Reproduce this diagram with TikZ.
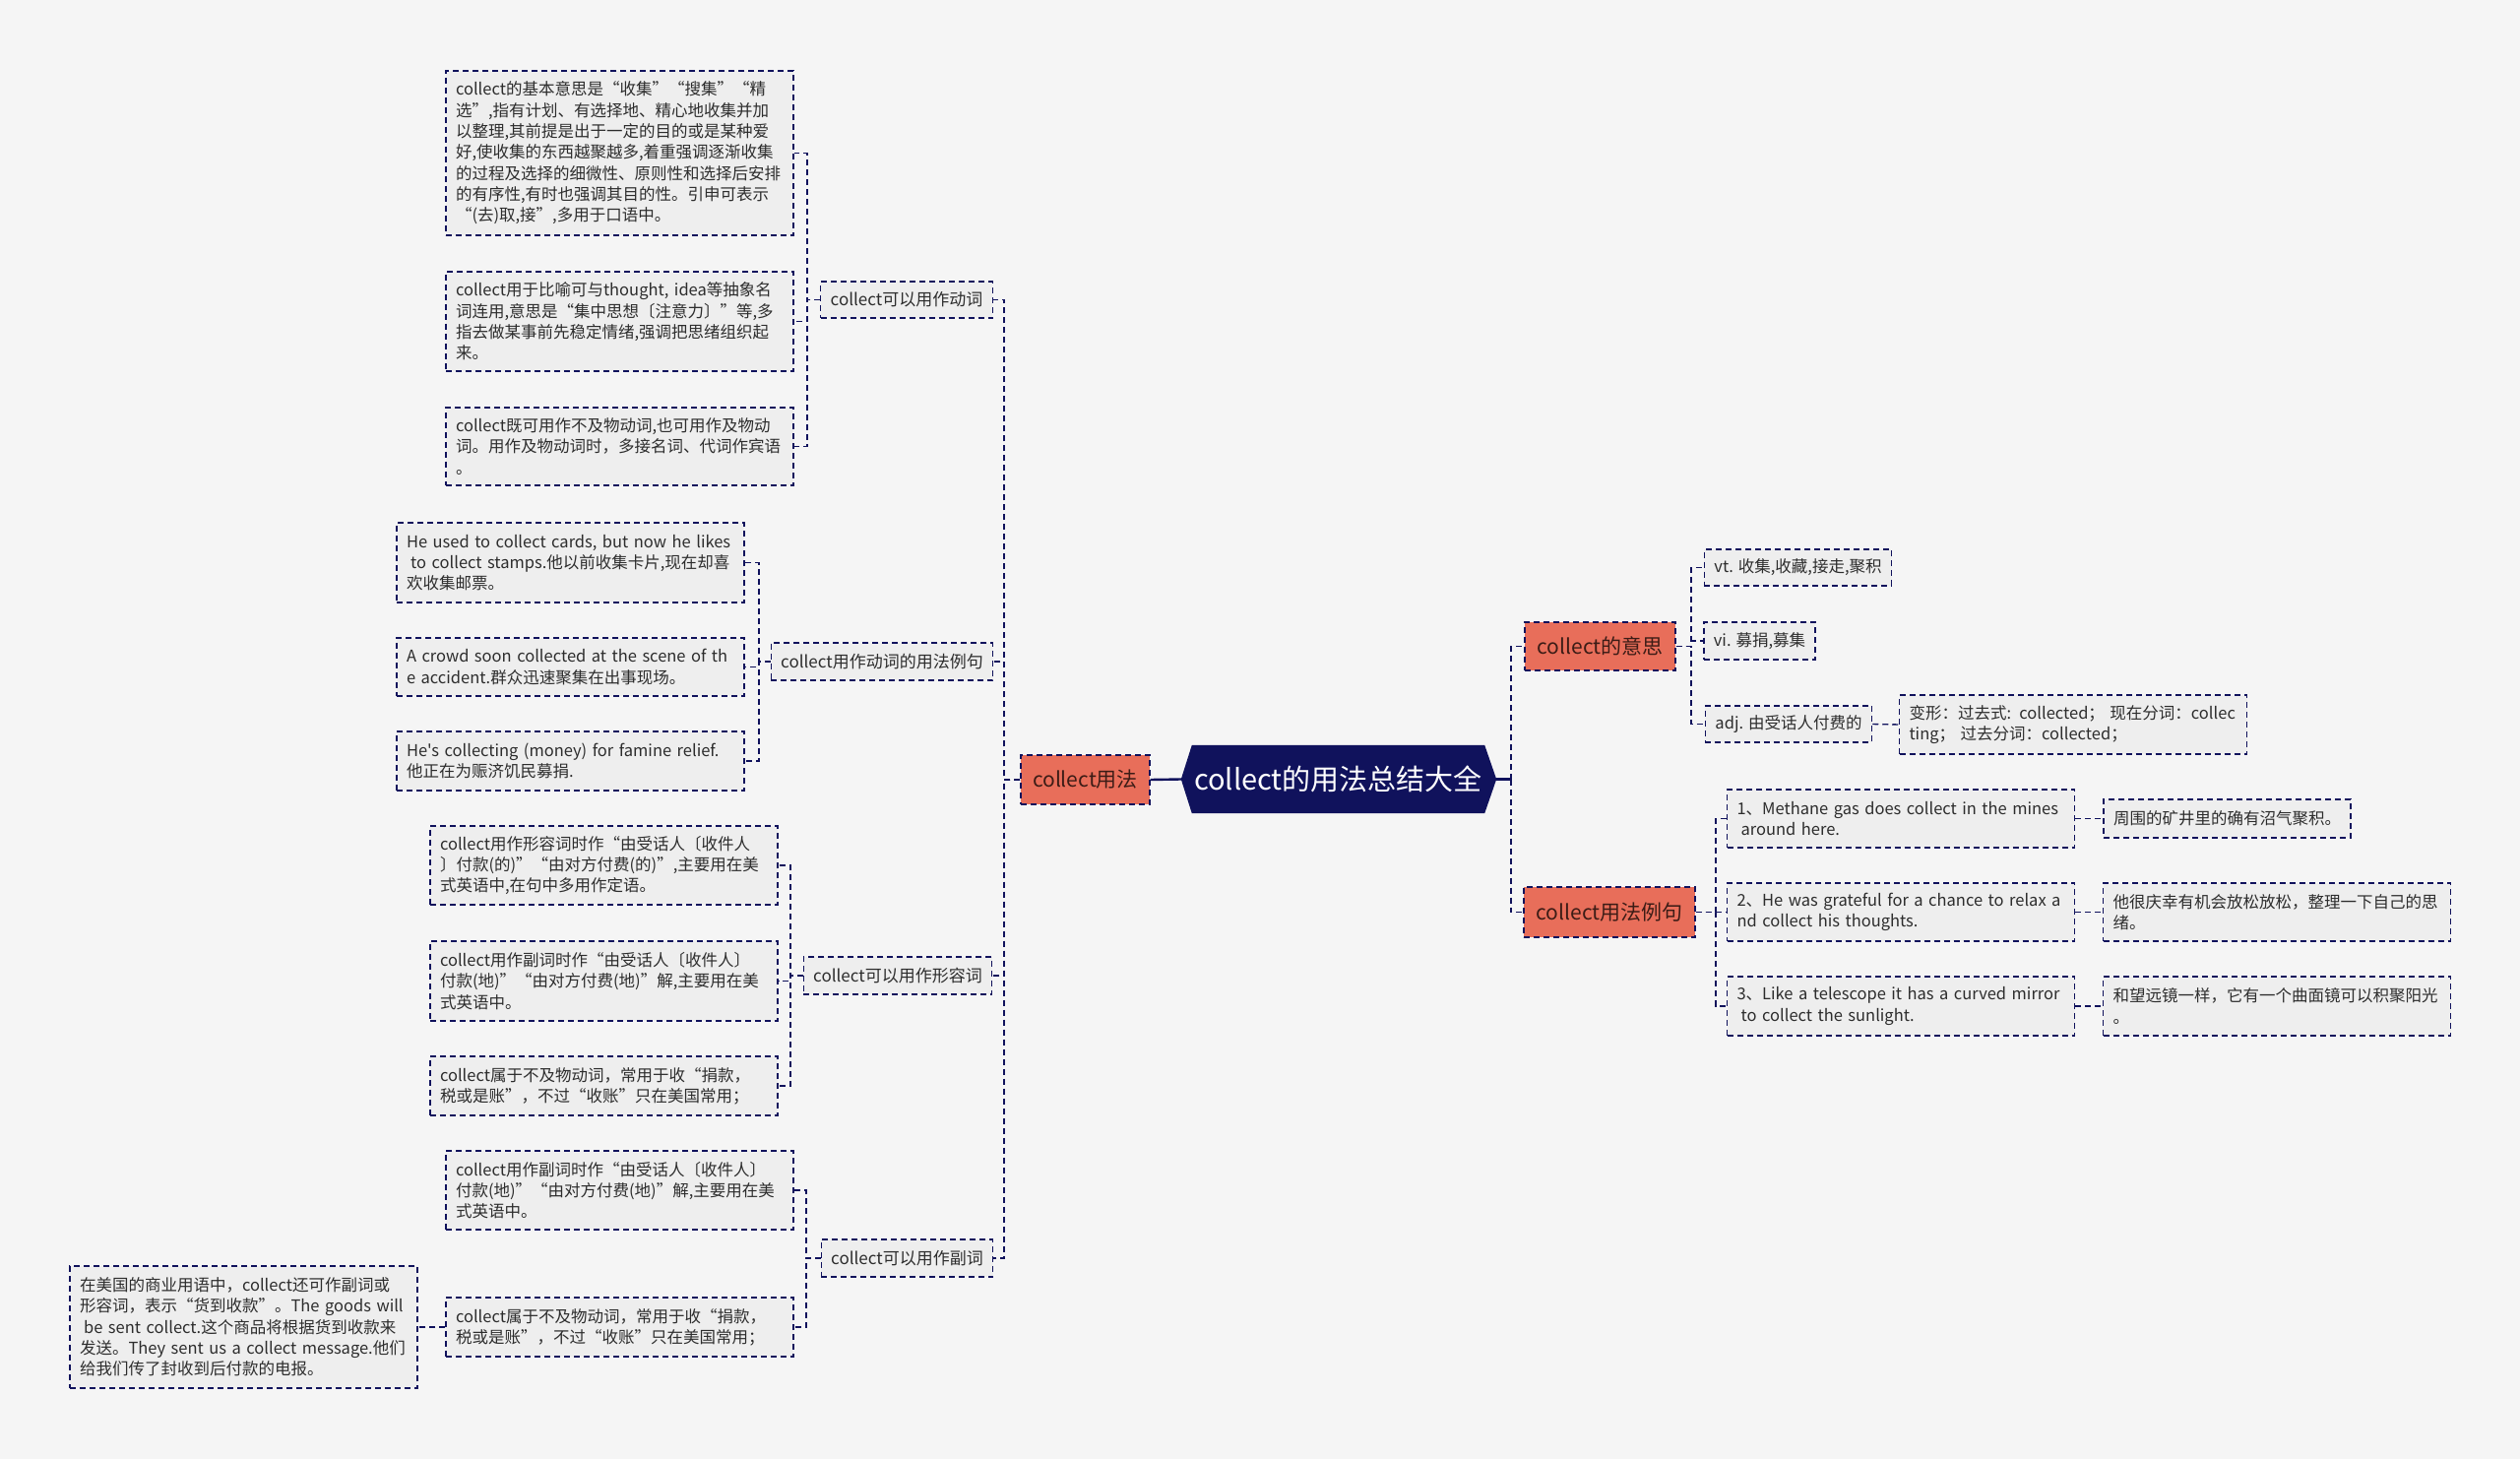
\documentclass[tikz,border=0pt]{standalone}
\usepackage{fontspec}
\setmainfont{Noto Sans CJK SC}[Ligatures=TeXOff]
\usetikzlibrary{backgrounds}
\definecolor{latar}{RGB}{245,245,245}
\definecolor{biru}{RGB}{16,18,92}
\definecolor{jingga}{RGB}{232,110,90}
\definecolor{isian}{RGB}{238,238,238}
\definecolor{teks}{RGB}{45,45,45}
\definecolor{teksjingga}{RGB}{60,28,22}
\begin{document}
\begin{tikzpicture}[x=1pt,y=-1pt,
    garis/.style={draw=biru,line width=1.4pt,dash pattern=on 6pt off 4pt},
    garisutama/.style={draw=biru,line width=2.4pt},
    kotak/.style={draw=biru,line width=1.4pt,dash pattern=on 6pt off 4pt,fill=isian,
      text=teks,inner xsep=10pt,inner ysep=0pt,font=\fontsize{16.5}{21.3}\selectfont},
    paragraf/.style={kotak,text width=333pt,align=left},
    cabang/.style={kotak,font=\fontsize{17}{21}\selectfont},
    pokok/.style={kotak,fill=jingga,text=teksjingga,font=\fontsize{21}{25}\selectfont},
    akar/.style={text=white,font=\fontsize{29}{33}\selectfont,
      minimum width=297pt,minimum height=69pt,inner sep=0pt}]
    \useasboundingbox (0,0) rectangle (2560,1482);
    % Simpul pusat
    \node[akar] (akar) at (1359.5,791.5) {collect的用法总结大全};
    \coordinate (akarKi) at ([xshift=-11pt]akar.west);
    \coordinate (akarKa) at ([xshift=12pt]akar.east);
    \begin{scope}[on background layer]
      \fill[latar] (0,0) rectangle (2560,1482);
      \fill[biru] (akarKi) -- (akar.north west) -- (akar.north east) -- (akarKa)
        -- (akar.south east) -- (akar.south west) -- cycle;
    \end{scope}
    % Batang-batang penghubung
    \coordinate (tKiri) at (1020,0);
    \coordinate (tKanan) at (1535,0);
    \coordinate (t1) at (820,0);
    \coordinate (t2) at (771,0);
    \coordinate (t3) at (803,0);
    \coordinate (t4) at (819,0);
    \coordinate (t5) at (1718,0);
    \coordinate (t6) at (1743,0);

    % Sisi kiri: collect用法
    \node[pokok,minimum width=131pt,minimum height=50pt] (yongfa) at (1102.5,792) {collect用法};
    \node[cabang,minimum width=170pt,minimum height=37pt] (p1) at (921,304.5) {collect可以用作动词};
    \node[paragraf,minimum height=167pt] (d1) at (629.5,155.5) {collect的基本意思是“收集”“搜集”“精\\
      选”,指有计划、有选择地、精心地收集并加\\
      以整理,其前提是出于一定的目的或是某种爱\\
      好,使收集的东西越聚越多,着重强调逐渐收集\\
      的过程及选择的细微性、原则性和选择后安排\\
      的有序性,有时也强调其目的性。引申可表示\\
      “(去)取,接”,多用于口语中。};
    \node[paragraf,minimum height=101pt] (d2) at (629.5,326.5) {collect用于比喻可与thought, idea等抽象名\\
      词连用,意思是“集中思想〔注意力〕”等,多\\
      指去做某事前先稳定情绪,强调把思绪组织起\\
      来。};
    \node[paragraf,minimum height=79pt] (d3) at (629.5,453.5) {collect既可用作不及物动词,也可用作及物动\\
      词。用作及物动词时，多接名词、代词作宾语\\
      。};

    \node[cabang,minimum width=220pt,minimum height=38pt] (p2) at (896,672) {collect用作动词的用法例句};
    \node[paragraf,minimum height=81pt] (e1) at (579.5,571.5) {He used to collect cards, but now he likes\\
      \hspace*{.25em}to collect stamps.他以前收集卡片,现在却喜\\
      欢收集邮票。};
    \node[paragraf,minimum height=59pt] (e2) at (579.5,677.5) {A crowd soon collected at the scene of th\\
      e accident.群众迅速聚集在出事现场。};
    \node[paragraf,minimum height=60pt] (e3) at (579.5,773) {He's collecting (money) for famine relief.\\
      他正在为赈济饥民募捐.};

    \node[cabang,minimum width=186pt,minimum height=38pt] (p3) at (912,991) {collect可以用作形容词};
    \node[paragraf,minimum height=80pt] (a1) at (613.5,879) {collect用作形容词时作“由受话人〔收件人\\
      〕付款(的)”“由对方付费(的)”,主要用在美\\
      式英语中,在句中多用作定语。};
    \node[paragraf,minimum height=81pt] (a2) at (613.5,996.5) {collect用作副词时作“由受话人〔收件人〕\\
      付款(地)”“由对方付费(地)”解,主要用在美\\
      式英语中。};
    \node[paragraf,minimum height=60pt] (a3) at (613.5,1103) {collect属于不及物动词，常用于收“捐款，\\
      税或是账”，不过“收账”只在美国常用；};

    \node[cabang,minimum width=169pt,minimum height=38pt] (p4) at (921.5,1278) {collect可以用作副词};
    \node[paragraf,minimum height=80pt] (b1) at (629.5,1209) {collect用作副词时作“由受话人〔收件人〕\\
      付款(地)”“由对方付费(地)”解,主要用在美\\
      式英语中。};
    \node[paragraf,minimum height=60pt] (b2) at (629.5,1348) {collect属于不及物动词，常用于收“捐款，\\
      税或是账”，不过“收账”只在美国常用；};
    \node[paragraf,minimum height=124pt] (b3) at (247.5,1348) {在美国的商业用语中，collect还可作副词或\\
      形容词，表示“货到收款”。The goods will\\
      \hspace*{.25em}be sent collect.这个商品将根据货到收款来\\
      发送。They sent us a collect message.他们\\
      给我们传了封收到后付款的电报。};

    % Sisi kanan
    \node[pokok,minimum width=153pt,minimum height=49pt] (yisi) at (1625.5,656.5) {collect的意思};
    \node[kotak,minimum width=187pt,minimum height=37pt] (vt) at (1826.5,576.5) {vt. 收集,收藏,接走,聚积};
    \node[kotak,minimum width=109pt,minimum height=38pt] (vi) at (1787.5,651) {vi. 募捐,募集};
    \node[kotak,minimum width=168pt,minimum height=37pt] (adj) at (1817,735.5) {adj. 由受话人付费的};
    \node[paragraf,minimum height=60pt] (bentuk) at (2106,736) {变形：过去式: collected；\ 现在分词：collec\\
      ting；\ 过去分词：collected；};

    \node[pokok,minimum width=174pt,minimum height=51pt] (liju) at (1635,926.5) {collect用法例句};
    \node[paragraf,minimum height=59pt] (s1) at (1931,831.5) {1、Methane gas does collect in the mines\\
      \hspace*{.25em}around here.};
    \node[paragraf,minimum height=59pt] (s2) at (1931,926.5) {2、He was grateful for a chance to relax a\\
      nd collect his thoughts.};
    \node[paragraf,minimum height=60pt] (s3) at (1931,1022) {3、Like a telescope it has a curved mirror\\
      \hspace*{.25em}to collect the sunlight.};
    \node[kotak,minimum width=251pt,minimum height=39pt] (c1) at (2262.5,831.5) {周围的矿井里的确有沼气聚积。};
    \node[paragraf,minimum height=59pt] (c2) at (2313,926.5) {他很庆幸有机会放松放松，整理一下自己的思\\
      绪。};
    \node[paragraf,minimum height=60pt] (c3) at (2313,1022) {和望远镜一样，它有一个曲面镜可以积聚阳光\\
      。};

    % Penghubung
    \draw[garisutama] (akarKi) -- (yongfa.east);
    \draw[garisutama] (akarKa) -- (akarKa -| tKanan);
    \foreach \p in {p1,p2,p3,p4}
      \draw[garis] (yongfa.west) -- (yongfa.west -| tKiri) |- (\p.east);
    \foreach \c in {d1,d2,d3}
      \draw[garis] (p1.west) -- (p1.west -| t1) |- (\c.east);
    \foreach \c in {e1,e2,e3}
      \draw[garis] (p2.west) -- (p2.west -| t2) |- (\c.east);
    \foreach \c in {a1,a2,a3}
      \draw[garis] (p3.west) -- (p3.west -| t3) |- (\c.east);
    \foreach \c in {b1,b2}
      \draw[garis] (p4.west) -- (p4.west -| t4) |- (\c.east);
    \draw[garis] (b2.west) -- (b3.east);
    \foreach \p in {yisi,liju}
      \draw[garis] (akarKa -| tKanan) |- (\p.west);
    \foreach \c in {vt,vi,adj}
      \draw[garis] (yisi.east) -- (yisi.east -| t5) |- (\c.west);
    \draw[garis] (adj.east) -- (bentuk.west);
    \foreach \c in {s1,s2,s3}
      \draw[garis] (liju.east) -- (liju.east -| t6) |- (\c.west);
    \draw[garis] (s1.east) -- (c1.west);
    \draw[garis] (s2.east) -- (c2.west);
    \draw[garis] (s3.east) -- (c3.west);
  \end{tikzpicture}
\end{document}
